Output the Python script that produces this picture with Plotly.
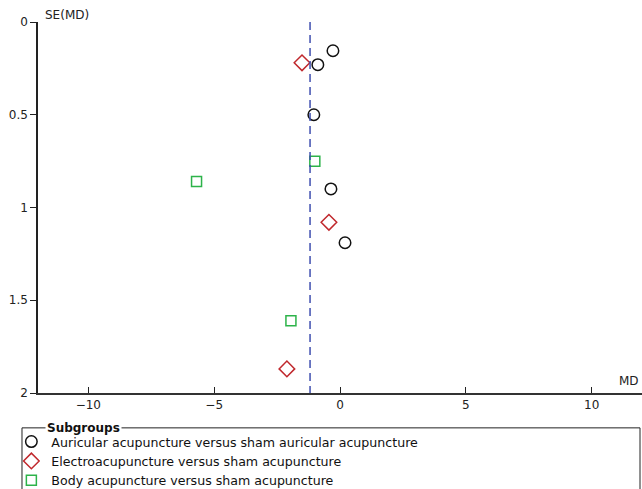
import plotly.graph_objects as go

# Data (MD, SE(MD)) per subgroup
auricular_md = [-0.28, -0.88, -1.04, -0.36, 0.20]
auricular_se = [0.155, 0.23, 0.50, 0.90, 1.19]
electro_md = [-1.51, -0.44, -2.11]
electro_se = [0.22, 1.08, 1.87]
body_md = [-1.00, -5.70, -1.95]
body_se = [0.75, 0.86, 1.61]
pooled_md = -1.19
x_ticks = [-10, -5, 0, 5, 10]
y_ticks = [0, 0.5, 1, 1.5, 2]

FONT = "DejaVu Sans"

fig = go.Figure()
fig.add_trace(go.Scatter(
    x=auricular_md, y=auricular_se, mode="markers",
    name="Auricular acupuncture versus sham auricular acupuncture",
    marker=dict(symbol="circle-open", size=11.5, color="#111111", line=dict(width=1.5)),
))
fig.add_trace(go.Scatter(
    x=electro_md, y=electro_se, mode="markers",
    name="Electroacupuncture versus sham acupuncture",
    marker=dict(symbol="diamond-open", size=12, color="#c0282d", line=dict(width=1.5)),
))
fig.add_trace(go.Scatter(
    x=body_md, y=body_se, mode="markers",
    name="Body acupuncture versus sham acupuncture",
    marker=dict(symbol="square-open", size=10, color="#2db34a", line=dict(width=1.5)),
))
fig.add_trace(go.Scatter(
    x=[pooled_md, pooled_md], y=[0, 2], mode="lines", showlegend=False,
    line=dict(color="#3f4fb0", width=1.5, dash="8px,5px"),
))

fig.update_layout(
    width=642, height=489,
    margin=dict(l=38, r=0, t=22, b=96, autoexpand=False),
    plot_bgcolor="white", paper_bgcolor="white",
    font=dict(family=FONT, size=12, color="#222222"),
    xaxis=dict(range=[-12, 12], tickvals=x_ticks, showgrid=False, zeroline=False,
               showline=True, linecolor="#333333", linewidth=1.5, automargin=False,
               ticks="inside", ticklen=6, tickcolor="#222222", tickfont=dict(size=12)),
    yaxis=dict(range=[2, 0], tickvals=y_ticks, ticktext=["0", "0.5", "1", "1.5", "2"],
               showgrid=False, zeroline=False, automargin=False,
               showline=True, linecolor="#222222", linewidth=1.5,
               ticks="outside", ticklen=6, tickcolor="#222222", tickfont=dict(size=12)),
    legend=dict(xref="container", yref="container", x=0.0177, y=0.127,
                xanchor="left", yanchor="top",
                font=dict(family=FONT, size=12.6, color="#111111"),
                bgcolor="rgba(0,0,0,0)", borderwidth=0, tracegroupgap=0),
    annotations=[
        dict(text="SE(MD)", xref="paper", yref="paper", x=0, y=1, xanchor="left",
             yanchor="bottom", xshift=5, yshift=-2, showarrow=False, font=dict(size=12)),
        dict(text="MD", xref="paper", yref="paper", x=1, y=0, xanchor="right",
             yanchor="bottom", xshift=-1, yshift=3, showarrow=False, font=dict(size=12)),
        dict(text="<b>Subgroups</b>", xref="paper", yref="paper", x=0.012, y=-0.094,
             xanchor="left", yanchor="middle", showarrow=False, bgcolor="white",
             borderpad=1, font=dict(size=12, color="#111111")),
    ],
    shapes=[
        dict(type="rect", xref="paper", yref="paper", x0=-0.0265, x1=0.9967,
             y0=-0.3, y1=-0.094, line=dict(color="#222222", width=1), layer="below"),
    ],
)

fig.write_html(
    "out.html",
    config={"displayModeBar": False},
    post_script="document.body.style.margin='0';document.body.style.overflow='hidden';",
)
